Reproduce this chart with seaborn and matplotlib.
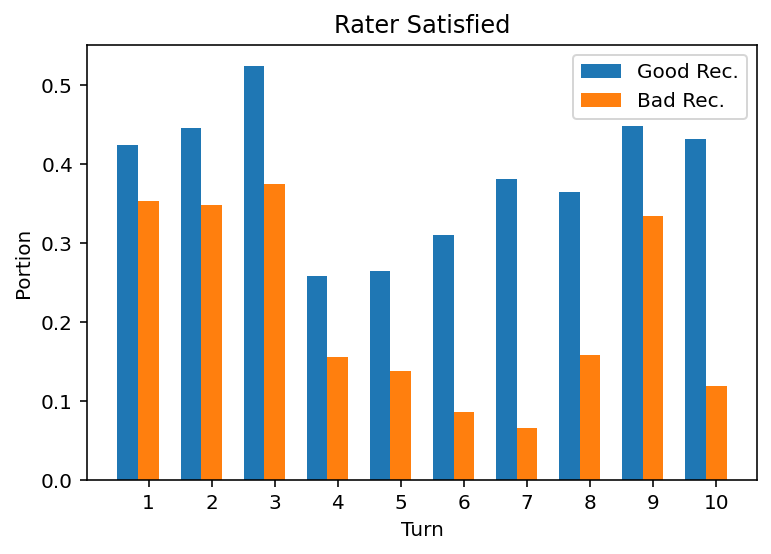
import numpy as np
import seaborn as sns
import matplotlib.pyplot as plt

# data
turns = [1, 2, 3, 4, 5, 6, 7, 8, 9, 10]
good_rec = [0.424, 0.446, 0.525, 0.259, 0.265, 0.311, 0.381, 0.365, 0.448, 0.432]
bad_rec = [0.353, 0.348, 0.375, 0.156, 0.138, 0.086, 0.066, 0.158, 0.334, 0.119]

palette = sns.color_palette('tab10')
width = 0.33
x = np.array(turns)

fig, ax = plt.subplots(figsize=(771 / 144, 554 / 144), dpi=144)
ax.bar(x - width, good_rec, width, color=palette[0], label='Good Rec.')
ax.bar(x, bad_rec, width, color=palette[1], label='Bad Rec.')

ax.set_xticks(x)
ax.set_xticklabels([str(t) for t in turns])
ax.set_xlabel('Turn')
ax.set_ylabel('Portion')
ax.set_title('Rater Satisfied')
ax.legend(loc='upper right')

fig.subplots_adjust(left=87 / 771, right=757 / 771, top=1 - 45 / 554, bottom=1 - 480 / 554)
fig.savefig('out.png', dpi=144)
